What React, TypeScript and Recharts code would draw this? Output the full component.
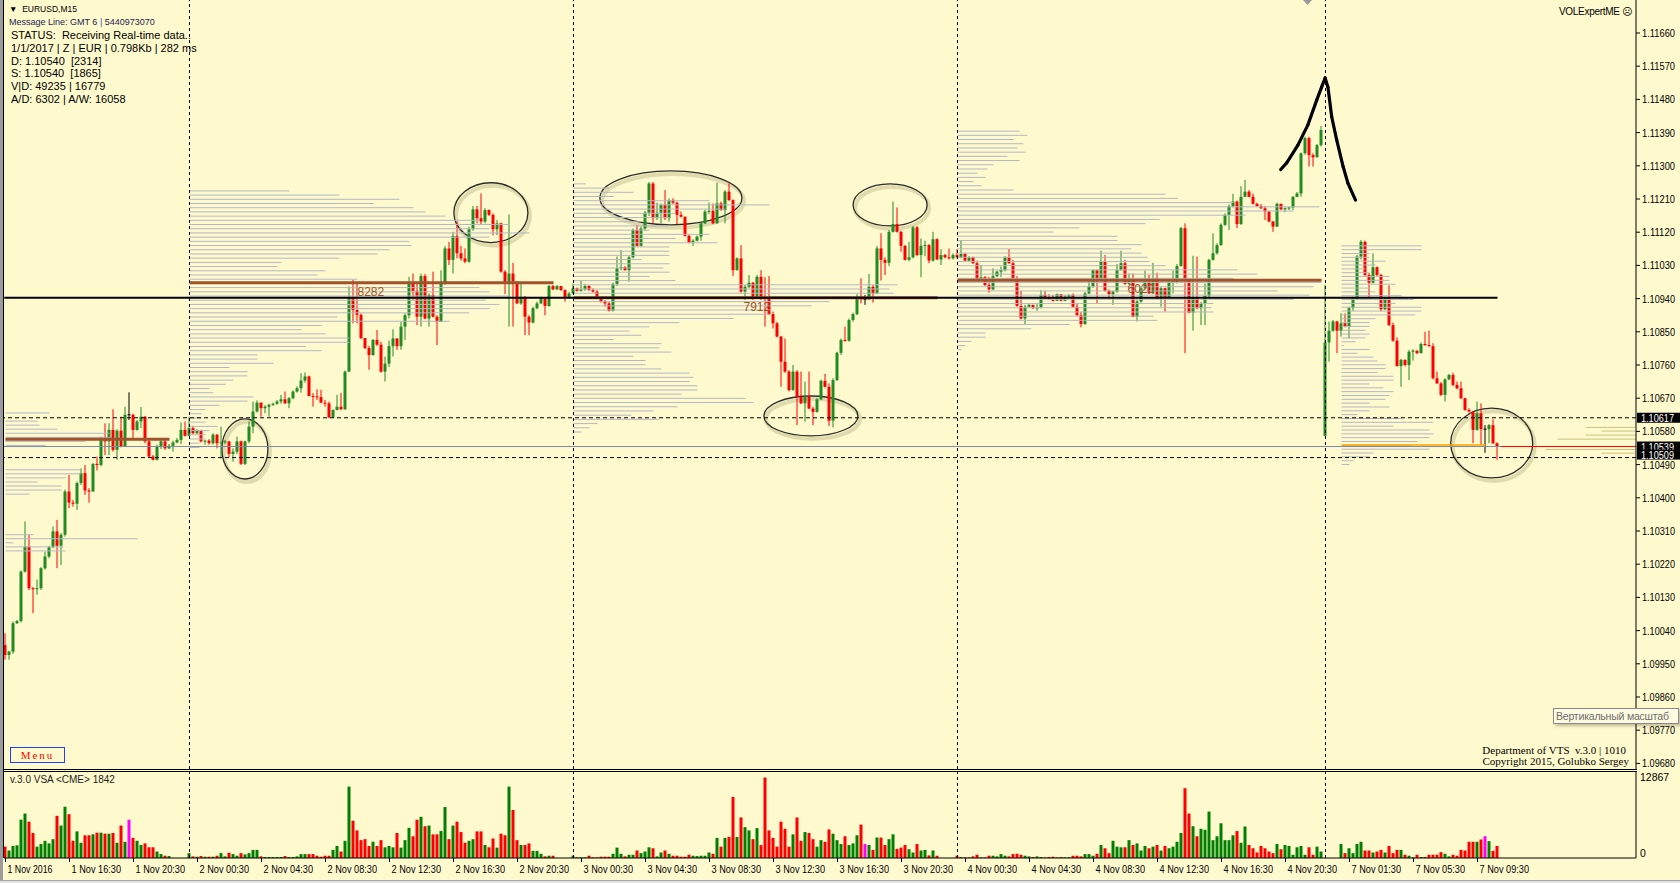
import React from 'react';
import { ComposedChart, Bar, XAxis, YAxis, ReferenceLine, ReferenceArea, ReferenceDot } from 'recharts';

// EURUSD M15, one entry per bar from 1 Nov 12:30 to 7 Nov 10:45.
// Prices are kept in points (0.00001) above 1.09000.
const toPrice = (pts: number) => 1.09 + pts / 100000;

const firstOpenPts = 1001;
const sessionOpens: [number, number][] = [[330, 1568]]; // Monday open after the weekend gap

const closePts = [
  974, 983, 1060, 1066, 1200, 1268, 1155, 1152, 1155, 1209,
  1241, 1266, 1309, 1270, 1300, 1417, 1387, 1384, 1440, 1467,
  1420, 1417, 1492, 1489, 1557, 1553, 1584, 1530, 1582, 1539,
  1625, 1625, 1584, 1607, 1620, 1553, 1512, 1503, 1539, 1553,
  1534, 1541, 1550, 1557, 1584, 1568, 1589, 1575, 1582, 1553,
  1555, 1548, 1571, 1548, 1550, 1553, 1519, 1525, 1553, 1492,
  1553, 1593, 1634, 1658, 1643, 1647, 1652, 1655, 1661, 1667,
  1656, 1670, 1688, 1697, 1718, 1729, 1676, 1675, 1673, 1658,
  1656, 1618, 1638, 1647, 1640, 1742, 1941, 1909, 1896, 1833,
  1806, 1787, 1828, 1815, 1742, 1764, 1811, 1832, 1811, 1864,
  1895, 1981, 1961, 1891, 2001, 1886, 1950, 1891, 1877, 1981,
  2076, 2045, 2110, 2063, 2049, 2040, 2128, 2182, 2158, 2149,
  2180, 2167, 2128, 2144, 2013, 1986, 2008, 1986, 1927, 1945,
  1891, 1875, 1914, 1927, 1941, 1920, 1974, 1965, 1974, 1963,
  1943, 1954, 1968, 1961, 1965, 1974, 1963, 1959, 1943, 1932,
  1927, 1907, 1980, 2022, 2025, 2017, 2052, 2126, 2083, 2130,
  2173, 2252, 2158, 2173, 2194, 2158, 2207, 2200, 2167, 2162,
  2110, 2092, 2097, 2108, 2144, 2176, 2178, 2144, 2198, 2180,
  2230, 2207, 2017, 2049, 1959, 1972, 1983, 1945, 1999, 1945,
  1941, 1898, 1873, 1837, 1769, 1742, 1692, 1742, 1674, 1656,
  1674, 1642, 1633, 1667, 1717, 1701, 1609, 1719, 1793, 1828,
  1826, 1882, 1898, 1945, 1938, 1938, 1972, 1954, 2076, 2045,
  2037, 2121, 2142, 2121, 2083, 2045, 2052, 2133, 2058, 2083,
  2085, 2043, 2101, 2046, 2058, 2052, 2049, 2058, 2052, 2061,
  2043, 2052, 2036, 1992, 1998, 1977, 1965, 2001, 2013, 2017,
  2052, 2036, 1995, 1920, 1886, 1918, 1923, 1914, 1916, 1950,
  1941, 1938, 1934, 1952, 1934, 1945, 1950, 1918, 1895, 1871,
  1954, 1974, 2017, 1995, 2040, 1961, 1952, 1959, 2017, 2036,
  1980, 1990, 1891, 1932, 1968, 1986, 1954, 1995, 1941, 1968,
  1943, 1983, 1986, 2028, 2131, 1990, 1902, 1943, 1914, 1927,
  1947, 2045, 2063, 2085, 2140, 2167, 2191, 2203, 2142, 2216,
  2230, 2216, 2197, 2191, 2185, 2176, 2149, 2135, 2197, 2182,
  2185, 2187, 2216, 2225, 2334, 2375, 2329, 2323, 2356, 2397,
  1821, 1853, 1878, 1853, 1873, 1864, 1914, 1941, 2054, 2094,
  2004, 1983, 2025, 2004, 1911, 1941, 1868, 1826, 1757, 1774,
  1760, 1796, 1799, 1792, 1817, 1814, 1811, 1724, 1710, 1679,
  1721, 1733, 1706, 1697, 1670, 1638, 1634, 1584, 1629, 1586,
  1586, 1597, 1548, 1539,
];

const highPts = [
  1033, 986, 1065, 1069, 1203, 1336, 1300, 1158, 1178, 1212,
  1254, 1270, 1322, 1340, 1304, 1422, 1462, 1394, 1444, 1480,
  1489, 1426, 1494, 1512, 1566, 1602, 1602, 1640, 1586, 1620,
  1647, 1686, 1628, 1611, 1646, 1622, 1557, 1516, 1544, 1557,
  1557, 1546, 1555, 1562, 1604, 1607, 1620, 1595, 1586, 1584,
  1557, 1559, 1575, 1573, 1593, 1557, 1553, 1534, 1566, 1555,
  1555, 1607, 1661, 1664, 1658, 1651, 1655, 1658, 1665, 1679,
  1688, 1673, 1691, 1702, 1738, 1740, 1731, 1684, 1694, 1693,
  1665, 1661, 1640, 1679, 1684, 1745, 1973, 1991, 1982, 1900,
  1833, 1812, 1830, 1855, 1823, 1783, 1826, 1857, 1832, 1877,
  1900, 1999, 2008, 1981, 2008, 2007, 1954, 2013, 1895, 2017,
  2083, 2094, 2121, 2149, 2083, 2076, 2135, 2191, 2191, 2225,
  2185, 2182, 2171, 2153, 2146, 2017, 2168, 2037, 1986, 1981,
  1947, 1895, 1918, 1932, 1945, 1943, 1977, 1977, 1977, 1974,
  1965, 1958, 1981, 1970, 1990, 1980, 1977, 1968, 1963, 1945,
  1936, 1931, 1983, 2054, 2072, 2028, 2055, 2130, 2140, 2135,
  2178, 2256, 2256, 2200, 2198, 2234, 2212, 2212, 2203, 2176,
  2162, 2115, 2101, 2111, 2148, 2180, 2200, 2198, 2254, 2203,
  2234, 2252, 2209, 2052, 2085, 1977, 2004, 1985, 2004, 2017,
  1998, 2001, 1905, 1877, 1839, 1832, 1746, 1760, 1746, 1742,
  1715, 1742, 1647, 1670, 1721, 1736, 1710, 1724, 1796, 1832,
  1864, 1886, 1902, 1952, 1995, 1950, 2007, 1977, 2083, 2117,
  2052, 2126, 2203, 2187, 2124, 2085, 2094, 2137, 2137, 2103,
  2097, 2088, 2121, 2103, 2074, 2061, 2076, 2063, 2074, 2097,
  2064, 2055, 2054, 2043, 2031, 2001, 1999, 2022, 2016, 2027,
  2055, 2074, 2045, 2001, 1961, 1923, 1927, 1923, 1925, 1963,
  1961, 1952, 1949, 1954, 1952, 1949, 1952, 1954, 1927, 1904,
  1958, 1990, 2019, 2019, 2070, 2058, 1965, 1961, 2034, 2070,
  2045, 2008, 2008, 1936, 1972, 2016, 2004, 2037, 2010, 1972,
  1969, 1987, 2016, 2034, 2135, 2144, 1995, 2056, 2054, 1931,
  1981, 2048, 2117, 2090, 2144, 2171, 2195, 2224, 2206, 2245,
  2262, 2234, 2225, 2200, 2196, 2191, 2178, 2150, 2200, 2196,
  2187, 2189, 2218, 2229, 2336, 2379, 2379, 2334, 2359, 2408,
  1977, 1878, 1882, 1880, 1900, 1900, 1918, 1945, 2058, 2099,
  2097, 2009, 2063, 2027, 2007, 1945, 1976, 1875, 1835, 1777,
  1775, 1801, 1803, 1799, 1821, 1850, 1853, 1819, 1742, 1714,
  1724, 1736, 1739, 1715, 1715, 1671, 1643, 1634, 1661, 1656,
  1597, 1600, 1613, 1550,
];

const lowPts = [
  961, 961, 977, 1058, 1062, 1197, 1150, 1087, 1137, 1150,
  1205, 1236, 1263, 1209, 1218, 1295, 1372, 1376, 1367, 1435,
  1408, 1387, 1417, 1474, 1485, 1516, 1516, 1525, 1503, 1537,
  1544, 1611, 1557, 1582, 1589, 1548, 1510, 1501, 1501, 1532,
  1530, 1532, 1525, 1548, 1546, 1566, 1571, 1573, 1573, 1550,
  1544, 1544, 1544, 1534, 1507, 1546, 1510, 1498, 1519, 1489,
  1489, 1548, 1575, 1631, 1620, 1629, 1620, 1649, 1652, 1655,
  1655, 1643, 1667, 1685, 1685, 1712, 1675, 1647, 1665, 1656,
  1647, 1616, 1616, 1637, 1638, 1638, 1747, 1873, 1873, 1830,
  1803, 1747, 1785, 1812, 1739, 1715, 1755, 1783, 1801, 1801,
  1828, 1886, 1936, 1868, 1864, 1884, 1864, 1889, 1814, 1877,
  1977, 2031, 2008, 2049, 2043, 2036, 2037, 2124, 2144, 2140,
  2144, 2164, 2112, 2112, 2010, 1952, 1864, 1864, 1925, 1923,
  1841, 1841, 1873, 1911, 1925, 1895, 1918, 1963, 1963, 1961,
  1932, 1941, 1952, 1959, 1959, 1961, 1961, 1956, 1941, 1929,
  1918, 1905, 1905, 1974, 2017, 2016, 1986, 2049, 2081, 2081,
  2124, 2164, 2144, 2153, 2144, 2153, 2149, 2196, 2142, 2160,
  2108, 2090, 2083, 2095, 2097, 2142, 2169, 2142, 2144, 2178,
  2144, 2205, 2001, 2016, 1956, 1936, 1968, 1936, 1941, 1936,
  1864, 1895, 1859, 1835, 1701, 1739, 1688, 1690, 1597, 1654,
  1606, 1640, 1597, 1631, 1665, 1699, 1595, 1591, 1717, 1787,
  1823, 1823, 1877, 1895, 1927, 1923, 1936, 1929, 1952, 1989,
  2004, 2028, 2119, 2119, 2067, 2043, 2041, 2049, 2055, 1998,
  2055, 2036, 2040, 2045, 2031, 2049, 2046, 2046, 2049, 2049,
  2040, 2040, 2034, 1990, 1990, 1974, 1956, 1963, 1998, 1999,
  2014, 2034, 1992, 1918, 1884, 1871, 1914, 1912, 1907, 1914,
  1938, 1936, 1932, 1933, 1933, 1933, 1942, 1916, 1893, 1862,
  1869, 1952, 1969, 1927, 1992, 1959, 1941, 1923, 1956, 2016,
  1977, 1977, 1889, 1878, 1929, 1965, 1953, 1953, 1938, 1918,
  1905, 1942, 1954, 1981, 2027, 1792, 1900, 1853, 1911, 1868,
  1868, 1943, 2043, 2059, 2083, 2137, 2126, 2187, 2131, 2140,
  2215, 2215, 2195, 2189, 2183, 2153, 2147, 2121, 2135, 2180,
  2174, 2180, 2180, 2215, 2216, 2330, 2298, 2298, 2323, 2352,
  1566, 1769, 1850, 1792, 1837, 1862, 1832, 1907, 1936, 2046,
  2001, 1941, 1981, 2001, 1905, 1909, 1866, 1823, 1756, 1701,
  1756, 1719, 1772, 1790, 1792, 1812, 1810, 1721, 1709, 1676,
  1661, 1719, 1703, 1694, 1667, 1636, 1631, 1548, 1582, 1543,
  1522, 1548, 1546, 1503,
];

// CME volume per bar
const volumes = [
  1699, 1117, 1796, 1893, 5729, 6651, 5438, 3738, 1699, 2088,
  2573, 2185, 2816, 6312, 4855, 7671, 6554, 2573, 3981, 2282,
  3399, 3399, 3544, 3787, 3787, 3641, 3641, 3738, 2282, 4855,
  2428, 5729, 3010, 2573, 1942, 2185, 1602, 1602, 971, 583,
  340, 291, 0, 0, 0, 0, 728, 243, 194, 291,
  194, 194, 194, 340, 728, 243, 777, 583, 340, 728,
  534, 728, 1214, 1214, 243, 146, 146, 146, 146, 146,
  291, 146, 146, 243, 583, 583, 583, 583, 340, 194,
  340, 340, 1214, 1796, 971, 2573, 10681, 5583, 4127, 2670,
  2816, 1796, 2428, 1796, 2670, 1602, 1796, 1602, 3738, 1554,
  2670, 4515, 3253, 5729, 6166, 4758, 4855, 3544, 3544, 4030,
  7622, 2816, 4855, 5438, 3884, 2282, 2573, 2816, 3981, 3981,
  1942, 1602, 2913, 1554, 3641, 3399, 10681, 7185, 2670, 1942,
  1942, 2185, 1068, 1068, 631, 243, 340, 340, 0, 0,
  0, 0, 340, 97, 97, 97, 340, 97, 97, 194,
  194, 194, 631, 1554, 631, 243, 486, 486, 1117, 728,
  971, 1602, 1457, 243, 825, 1117, 631, 340, 340, 194,
  194, 486, 340, 291, 340, 340, 825, 631, 3010, 1699,
  3010, 3156, 9127, 3156, 6069, 4612, 4127, 2816, 4467, 1942,
  12040, 4127, 3010, 1699, 5438, 4370, 1699, 3544, 6069, 2573,
  3884, 3738, 2816, 1699, 2670, 2428, 4272, 3641, 2670, 2088,
  3253, 1942, 2185, 3399, 5001, 2088, 1942, 1214, 3059, 3059,
  1942, 2816, 3544, 1359, 1554, 1942, 1311, 825, 2088, 1117,
  1214, 388, 1117, 340, 0, 0, 0, 0, 340, 146,
  97, 97, 243, 486, 97, 97, 340, 340, 243, 583,
  340, 243, 583, 631, 486, 340, 243, 146, 243, 146,
  97, 146, 194, 97, 146, 97, 97, 340, 340, 243,
  583, 583, 340, 631, 1942, 1457, 728, 2573, 1699, 1602,
  1602, 2670, 1942, 2185, 1117, 1796, 1457, 1699, 1942, 1117,
  1796, 1457, 1699, 2428, 3738, 10438, 6651, 4758, 3253, 4370,
  4224, 6943, 2670, 3253, 5195, 2670, 2670, 3399, 4030, 2282,
  4709, 1942, 1457, 825, 1796, 1457, 971, 728, 2088, 1311,
  1942, 1796, 486, 1602, 1796, 486, 1602, 486, 1699, 971,
  0, 0, 0, 0, 2088, 728, 1457, 728, 2088, 2428,
  1117, 1117, 825, 971, 1214, 825, 1796, 728, 1214, 1214,
  486, 340, 97, 486, 146, 146, 486, 486, 486, 874,
  631, 243, 486, 340, 1214, 1117, 2428, 2428, 2428, 2767,
  3253, 2525, 1068, 1796,
];

const priceTicks = [
  1.0968, 1.0977, 1.0986, 1.0995, 1.1004, 1.1013, 1.1022, 1.1031, 1.104, 1.1049, 1.1058, 1.1067,
  1.1076, 1.1085, 1.1094, 1.1103, 1.1112, 1.1121, 1.113, 1.1139, 1.1148, 1.1157, 1.1166,
];
const timeTicks = [0, 16, 32, 48, 64, 80, 96, 112, 128, 144, 160, 176, 192, 208, 224, 240, 256, 272, 288, 304, 320, 336, 352, 368];
const timeLabels = [
  '1 Nov 2016', '1 Nov 16:30', '1 Nov 20:30', '2 Nov 00:30', '2 Nov 04:30', '2 Nov 08:30', '2 Nov 12:30',
  '2 Nov 16:30', '2 Nov 20:30', '3 Nov 00:30', '3 Nov 04:30', '3 Nov 08:30', '3 Nov 12:30', '3 Nov 16:30',
  '3 Nov 20:30', '4 Nov 00:30', '4 Nov 04:30', '4 Nov 08:30', '4 Nov 12:30', '4 Nov 16:30', '4 Nov 20:30',
  '7 Nov 01:30', '7 Nov 05:30', '7 Nov 09:30',
];
const daySeparators = [46, 142, 238, 330];

// daily volume profiles: volume at each price bin, in bar widths
const profile1Nov = [11, 0, 8, 8.5, 13, 26, 26.5, 20, 10, 0, 0, 0, 0, 0, 19, 19, 15, 8, 14, 14, 6, 0, 0, 0, 0, 0, 0, 0, 0, 0, 7, 33, 2, 14.5, 15];
const profile2Nov = [
  25, 37.5, 52.5, 46, 56, 59, 64, 72.5, 80, 75, 85, 75, 55, 55.5, 50, 47, 37.5, 23, 22, 34, 32, 42, 82.5, 72.5, 75, 80,
  74, 77.5, 75, 70, 37, 65, 33, 28, 34, 40, 40, 29, 33, 17, 17, 21, 10, 14.5, 14.5, 11, 9, 5, 6, 16, 14.5, 7.5, 4, 3, 3,
  4, 7, 5, 4, 4, 2.5, 2.5,
];
const profile3Nov = [
  3, 9, 15, 10, 34, 49, 38, 25.5, 24, 17, 24, 19, 34, 25.5, 36, 24, 24, 24, 17, 24, 22.5, 24, 19, 25.5, 81, 79, 80, 91,
  64, 59.5, 49.5, 49, 40, 26.5, 19, 14, 17, 10, 22, 21.5, 24.5, 15, 18, 18, 22, 29, 30, 29, 31, 31, 27, 43, 45, 26, 20,
  14.5, 21.5, 6, 4, 2,
];
const profile4Nov = [
  15.5, 17.5, 14, 16.5, 15, 17, 12.5, 15.5, 9, 7.5, 5, 7, 4, 6, 14, 52, 55, 69, 90.5, 84, 72, 50.5, 47, 30.5, 24, 40, 40,
  46, 43.5, 46, 47.5, 48, 52, 70, 75, 69, 91, 89, 80, 88, 84, 64, 63.5, 64, 49, 50, 28, 18.5, 7, 7, 3.5, 2, 1,
];
const profile7Nov = [
  20, 20, 7, 7, 11, 8.5, 6, 7, 12, 12, 13.5, 7, 8.5, 15, 18, 13.5, 20, 20, 18.5, 8.5, 7, 7, 6, 7, 6, 3.5, 0.5, 7, 4, 8, 9,
  11, 11, 9, 13, 13, 7, 10.5, 13, 12, 11, 7, 12, 7, 4, 15, 23, 13, 22, 23, 22, 19, 17.5, 22, 8, 7, 3, 2,
];
const profileStartBar = [0, 46, 142, 238, 334];
const profileTopPrice = [1.1063, 1.11232, 1.11251, 1.11394, 1.11083];
const profileBin = [0.00011, 0.000114, 0.000114, 0.000114, 0.000104];
const profileVolumes = [profile1Nov, profile2Nov, profile3Nov, profile4Nov, profile7Nov];

// point of control of each day: [from bar, to bar, price]
const pocLines: [number, number, number][] = [
  [0, 41, 1.10559],
  [46, 137, 1.10983],
  [142, 233, 1.10942],
  [238, 329, 1.1099],
];
const pocLabels: [number, number, string][] = [
  [88, 1.10983, '8282'],
  [184.5, 1.10942, '7912'],
  [280.5, 1.1099, '6020'],
];
const mondayPoc: [number, number, number] = [334, 370, 1.10543];
const weekLevelPrices = [1.10591, 1.10581, 1.1057, 1.10559, 1.10531, 1.10521];
const weekLevelStart = [395, 399, 395, 388, 385, 399];

const levelBlack = 1.10942;
const levelAsk = 1.10539;
const levelHigh = 1.10617;
const levelLow = 1.10509;

// hand drawn annotations: ellipses as [bar1, bar2, price1, price2]
const ellipses: [number, number, number, number][] = [
  [54.1, 65.6, 1.10614, 1.10451],
  [112.1, 130.6, 1.11254, 1.11092],
  [148.6, 184.1, 1.11286, 1.1114],
  [211.9, 230.4, 1.11251, 1.11137],
  [189.6, 213.1, 1.10676, 1.10568],
  [361.3, 381.8, 1.10643, 1.10454],
];
const sketchBars = [318.8, 320.3, 323.1, 325.6, 327.8, 329.05, 329.9, 330.6, 331.55, 332.8, 334.4, 335.6, 337.5];
const sketchPrices = [1.1129, 1.11308, 1.11356, 1.11411, 1.11478, 1.11514, 1.11538, 1.11514, 1.11433, 1.1137, 1.11298, 1.11253, 1.11207];

const BG = '#FFFACD';
const UP = '#228B22';
const DOWN = '#FF0000';
const VOL_UP = '#008000';
const DOJI_VOL = '#FF00FF';
const PROFILE = '#B3B7C5';
const POC = '#A0522D';
const AXIS_FONT = "'Liberation Sans Narrow', 'Liberation Sans', Arial, sans-serif";
const UI_FONT = "'Liberation Sans', Arial, 'DejaVu Sans', sans-serif";
const SERIF = "'Liberation Serif', 'Times New Roman', serif";

const X_DOMAIN: [number, number] = [-0.375, 407.625];
const P_DOMAIN: [number, number] = [1.0966482, 1.1174946];
const VOL_MAX = 12867;

const rows = closePts.map((c, i) => {
  const gap = sessionOpens.find(([b]) => b === i);
  const o = gap ? gap[1] : i === 0 ? firstOpenPts : closePts[i - 1];
  const h = Math.max(highPts[i], o, c);
  const l = Math.min(lowPts[i], o, c);
  return {
    i,
    o: toPrice(o),
    h: toPrice(h),
    l: toPrice(l),
    c: toPrice(c),
    dir: c > o ? 1 : c < o ? -1 : 0,
    vol: volumes[i],
  };
});

const Candle = (props: any) => {
  const { x, y, width, height, payload } = props;
  if (!payload || y == null || isNaN(y)) return <g />;
  const k = payload.h > payload.l ? height / (payload.h - payload.l) : 0;
  const yo = y + (payload.h - payload.o) * k;
  const yc = y + (payload.h - payload.c) * k;
  const color = payload.dir > 0 ? UP : payload.dir < 0 ? DOWN : '#000';
  const cx = x + width / 2;
  const top = Math.min(yo, yc);
  const bh = Math.max(1, Math.abs(yo - yc));
  return (
    <g>
      <line x1={cx} x2={cx} y1={y} y2={y + height} stroke={color} strokeWidth={1} />
      {payload.dir === 0 ? (
        <line x1={x} x2={x + width} y1={yo} y2={yo} stroke={color} />
      ) : (
        <rect x={x} y={top} width={width} height={bh} fill={color} />
      )}
    </g>
  );
};

const VolumeBar = (props: any) => {
  const { x, y, width, height, payload } = props;
  if (!payload || !height || height <= 0) return <g />;
  const color = payload.dir > 0 ? VOL_UP : payload.dir < 0 ? DOWN : DOJI_VOL;
  return <rect x={x} y={y} width={width} height={height} fill={color} />;
};

const PriceTick = (props: any) => {
  const { x, y, payload } = props;
  return (
    <g>
      <line x1={x - 6} x2={x - 2} y1={y} y2={y} stroke="#000" />
      <text x={x} y={y + 4} fontSize={10} fontFamily={AXIS_FONT} fill="#000" textLength={33} lengthAdjust="spacingAndGlyphs">
        {Number(payload.value).toFixed(5)}
      </text>
    </g>
  );
};

const VolumeTick = (props: any) => {
  const { x, y, payload } = props;
  const top = payload.value > 0;
  return (
    <text x={x} y={top ? y + 9 : y - 1} fontSize={10.5} fontFamily={AXIS_FONT} fill="#000">
      {String(payload.value)}
    </text>
  );
};

const TimeTick = (props: any) => {
  const { x, y, payload } = props;
  const label = timeLabels[timeTicks.indexOf(payload.value)] ?? '';
  return (
    <g>
      <line x1={x} x2={x} y1={y} y2={y + 4} stroke="#000" />
      <text x={x + 2} y={y + 15} fontSize={10} fontFamily={AXIS_FONT} fill="#000" textLength={label.length * 4.5} lengthAdjust="spacingAndGlyphs">
        {label}
      </text>
    </g>
  );
};

const PriceTag = (props: any) => {
  const { viewBox, text, dy = 0 } = props;
  if (!viewBox) return null;
  const x = viewBox.x + viewBox.width + 1;
  const y = viewBox.y + dy;
  return (
    <g>
      <rect x={x} y={y - 5} width={43} height={10} fill="#000" />
      <text x={x + 4} y={y + 4} fontSize={10} fontFamily={AXIS_FONT} fill="#fff" textLength={33} lengthAdjust="spacingAndGlyphs">
        {text}
      </text>
    </g>
  );
};

const EllipseShape = (props: any) => {
  const { x, y, width, height } = props;
  if (x == null || y == null) return <g />;
  const cx = x + width / 2;
  const cy = y + height / 2;
  return (
    <g>
      <ellipse cx={cx + 2} cy={cy + 3} rx={width / 2} ry={height / 2} fill="none" stroke="rgba(110,110,60,0.22)" strokeWidth={4} />
      <ellipse cx={cx} cy={cy} rx={width / 2} ry={height / 2} fill="none" stroke="#2b2b2b" strokeWidth={1.3} />
    </g>
  );
};

const PocText = (text: string) => (props: any) => {
  const { cx, cy } = props;
  return (
    <text x={cx} y={cy + 13} fontSize={12} fontFamily={UI_FONT} fill={POC}>
      {text}
    </text>
  );
};

const profileLines = profileVolumes.flatMap((lens, d) =>
  lens.map((len, k) => {
    if (len <= 0) return null;
    const p = profileTopPrice[d] - k * profileBin[d];
    const x0 = profileStartBar[d];
    return (
      <ReferenceLine
        key={`pf-${d}-${k}`}
        segment={[{ x: x0, y: p }, { x: x0 + len, y: p }]}
        stroke={PROFILE}
        strokeWidth={1}
        ifOverflow="visible"
      />
    );
  })
);

const overlayText = (style: React.CSSProperties, text: React.ReactNode, key?: string) => (
  <div key={key} style={{ position: 'absolute', whiteSpace: 'pre', lineHeight: '13px', ...style }}>
    {text}
  </div>
);

export default function App() {
  const infoLines = [
    'STATUS:  Receiving Real-time data..',
    '1/1/2017 | Z | EUR | 0.798Kb | 282 ms',
    'D: 1.10540  [2314]',
    'S: 1.10540  [1865]',
    'V|D: 49235 | 16779',
    'A/D: 6302 | A/W: 16058',
  ];
  const infoTops = [29, 42, 55, 67, 80, 93];

  return (
    <div style={{ position: 'absolute', left: 0, top: 0, width: 1680, height: 883, background: BG, overflow: 'hidden' }}>
      <div style={{ position: 'absolute', left: 0, top: 0 }}>
        <ComposedChart width={1680} height={770} data={rows} margin={{ top: 0, right: 0, bottom: 1, left: 4 }}>
          <XAxis type="number" dataKey="i" domain={X_DOMAIN} hide allowDataOverflow />
          <YAxis
            orientation="right"
            width={44}
            domain={P_DOMAIN}
            allowDataOverflow
            ticks={priceTicks}
            interval={0}
            tickSize={4}
            tickMargin={2}
            tickLine={false}
            axisLine={{ stroke: '#000' }}
            tick={<PriceTick />}
          />
          {profileLines}
          {pocLines.map(([a, b, p], k) => (
            <ReferenceLine key={`poc-${k}`} segment={[{ x: a, y: p }, { x: b, y: p }]} stroke={POC} strokeWidth={3} />
          ))}
          {pocLabels.map(([bar, p, t], k) => (
            <ReferenceDot key={`pocl-${k}`} x={bar} y={p} r={0} shape={PocText(t)} />
          ))}
          <ReferenceLine segment={[{ x: mondayPoc[0], y: mondayPoc[2] }, { x: mondayPoc[1], y: mondayPoc[2] }]} stroke="#FFA500" strokeWidth={1.5} />
          {weekLevelPrices.map((p, k) => (
            <ReferenceLine key={`wk-${k}`} segment={[{ x: weekLevelStart[k], y: p }, { x: 407.5, y: p }]} stroke="#C9C283" strokeWidth={1} />
          ))}
          <ReferenceLine segment={[{ x: -0.3, y: levelBlack }, { x: 373, y: levelBlack }]} stroke="#000" strokeWidth={2} />
          <ReferenceLine y={levelAsk} stroke="#7D8CA3" strokeWidth={1} label={<PriceTag text="1.10539" />} />
          <ReferenceLine segment={[{ x: 373.9, y: levelAsk }, { x: 407.6, y: levelAsk }]} stroke="#FF0000" strokeWidth={1} />
          <Bar dataKey={(d: any) => [d.l, d.h]} barSize={3} shape={<Candle />} isAnimationActive={false} />
          {daySeparators.map((b) => (
            <ReferenceLine key={`day-${b}`} x={b} stroke="#000" strokeDasharray="3 3" />
          ))}
          <ReferenceLine y={levelHigh} stroke="#000" strokeDasharray="4 3" label={<PriceTag text="1.10617" />} />
          <ReferenceLine y={levelLow} stroke="#000" strokeDasharray="4 3" label={<PriceTag text="1.10509" dy={-3} />} />
          {ellipses.map(([x1, x2, y1, y2], k) => (
            <ReferenceArea key={`el-${k}`} x1={x1} x2={x2} y1={y1} y2={y2} shape={<EllipseShape />} />
          ))}
          {sketchBars.slice(1).map((b, k) => (
            <ReferenceLine
              key={`sk-${k}`}
              segment={[{ x: sketchBars[k], y: sketchPrices[k] }, { x: b, y: sketchPrices[k + 1] }]}
              stroke="#000"
              strokeWidth={3.2}
              strokeLinecap="round"
            />
          ))}
        </ComposedChart>
      </div>

      <div style={{ position: 'absolute', left: 0, top: 770 }}>
        <ComposedChart width={1680} height={113} data={rows} margin={{ top: 2, right: 0, bottom: 0, left: 4 }}>
          <XAxis
            type="number"
            dataKey="i"
            domain={X_DOMAIN}
            allowDataOverflow
            ticks={timeTicks}
            interval={0}
            height={25}
            tickSize={0}
            tickMargin={0}
            tickLine={false}
            axisLine={{ stroke: '#000' }}
            tick={<TimeTick />}
          />
          <YAxis
            orientation="right"
            width={44}
            domain={[0, VOL_MAX]}
            allowDataOverflow
            ticks={[0, VOL_MAX]}
            interval={0}
            tickSize={4}
            tickMargin={0}
            tickLine={false}
            axisLine={{ stroke: '#000' }}
            tick={<VolumeTick />}
          />
          <Bar dataKey="vol" barSize={3} shape={<VolumeBar />} isAnimationActive={false} />
          {daySeparators.map((b) => (
            <ReferenceLine key={`vday-${b}`} x={b} stroke="#000" strokeDasharray="3 3" />
          ))}
        </ComposedChart>
      </div>

      {/* window frame */}
      <div style={{ position: 'absolute', left: 0, top: 0, width: 3, height: 880, background: '#9C9C9C' }} />
      <div style={{ position: 'absolute', left: 3, top: 0, width: 1, height: 858, background: '#000' }} />
      <div style={{ position: 'absolute', left: 3, top: 769, width: 1634, height: 1, background: '#000' }} />
      <div style={{ position: 'absolute', left: 3, top: 771, width: 1634, height: 1, background: '#000' }} />
      <div style={{ position: 'absolute', left: 0, top: 880, width: 1680, height: 3, background: '#E4E4E4', borderTop: '1px solid #A8A8A8' }} />
      <svg style={{ position: 'absolute', left: 0, top: 0 }} width={1680} height={10}>
        <polygon points="1303,0 1312,0 1307.5,5" fill="#9A9A9A" />
      </svg>

      {/* texts */}
      {overlayText({ left: 9, top: 3, fontSize: 8.5, fontFamily: UI_FONT, color: '#000' }, '\u25BC  EURUSD,M15')}
      {overlayText(
        { left: 9, top: 16, fontSize: 9, fontFamily: UI_FONT, color: '#1C2452' },
        <>
          Message Line: GMT 6 <span style={{ color: '#3050D0' }}>|</span> 5440973070
        </>
      )}
      {infoLines.map((t, k) => overlayText({ left: 11, top: infoTops[k], fontSize: 11, fontFamily: UI_FONT, color: '#000' }, t, `info-${k}`))}
      {overlayText({ left: 1559, top: 5, fontSize: 10, fontFamily: UI_FONT, color: '#000', letterSpacing: -0.3 }, 'VOLExpertME \u2639')}
      {overlayText({ left: 10, top: 773, fontSize: 10, fontFamily: UI_FONT, color: '#222' }, 'v.3.0 VSA <CME> 1842')}
      {overlayText({ right: 1680 - 1626, top: 744, fontSize: 11, fontFamily: SERIF, color: '#000', textAlign: 'right' }, 'Department of VTS  v.3.0 | 1010')}
      {overlayText({ right: 1680 - 1629, top: 755, fontSize: 11, fontFamily: SERIF, color: '#000', textAlign: 'right' }, 'Copyright 2015, Golubko Sergey')}
      <div
        style={{
          position: 'absolute',
          left: 10,
          top: 747,
          width: 53,
          height: 14,
          border: '1px solid #2040FF',
          color: '#FF0000',
          fontFamily: SERIF,
          fontSize: 11,
          lineHeight: '14px',
          textAlign: 'center',
          letterSpacing: 2,
        }}
      >
        Menu
      </div>
      <div
        style={{
          position: 'absolute',
          left: 1553,
          top: 708,
          width: 122,
          height: 14,
          border: '1px solid #8A8A8A',
          background: '#FFFBE0',
          boxShadow: '2px 2px 3px rgba(0,0,0,0.25)',
          color: '#6E6E6E',
          fontFamily: UI_FONT,
          fontSize: 10.5,
          letterSpacing: -0.2,
          lineHeight: '14px',
          paddingLeft: 2,
          whiteSpace: 'pre',
          overflow: 'hidden',
        }}
      >
        Вертикальный масштаб
      </div>
    </div>
  );
}
